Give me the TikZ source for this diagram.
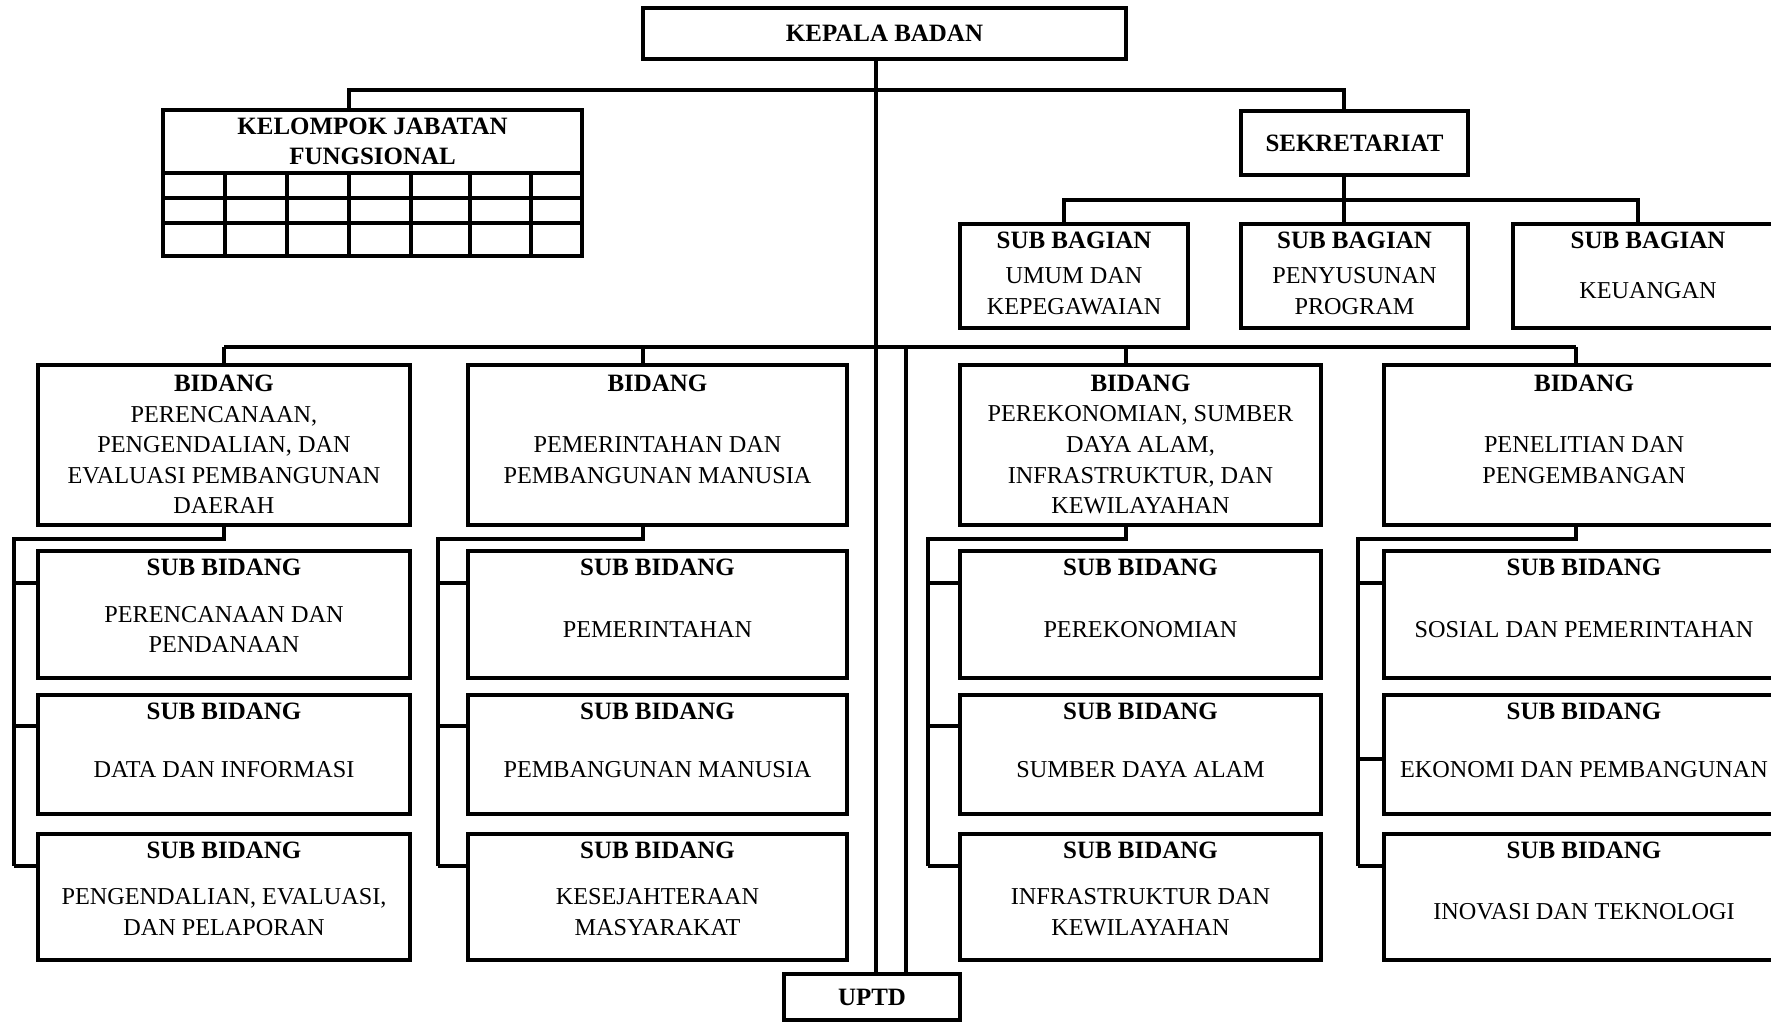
\documentclass[tikz,border=0pt]{standalone}
\usepackage{fontspec}
\setmainfont{Liberation Serif}
\tikzset{
  box/.style={draw, line width=1pt, inner sep=0pt, outer sep=0pt},
  head/.style={box, font=\fontsize{7.1}{8.5}\selectfont\bfseries, align=center},
  ttl/.style={font=\fontsize{7.1}{8.5}\selectfont\bfseries, inner sep=0pt},
  txt/.style={font=\fontsize{6.9}{8.7}\selectfont, align=center, inner sep=0pt},
  conn/.style={line width=1pt}
}
\begin{document}
\begin{tikzpicture}[x=0.1mm,y=-0.1mm]
    \clip (0,0) rectangle (1771,1022);
    % Top level
    \node[head, minimum width=48.3mm, minimum height=5.1mm] (kepala) at (884.5,33.5) {KEPALA BADAN};
    \node[head, minimum width=41.9mm, minimum height=6.3mm] (kjf) at (372.5,141.5) {KELOMPOK JABATAN\\FUNGSIONAL};
    \node[head, minimum width=22.7mm, minimum height=6.4mm] (sek) at (1354.5,143) {SEKRETARIAT};
    \node[head, minimum width=17.6mm, minimum height=4.6mm] (uptd) at (872,997) {UPTD};
    % Grid under the functional group
    \draw[conn] (kjf.south west) rectangle (kjf.east |- 0,256);
    \foreach \gx in {225,287,349,411,470,531}
      \draw[conn] (\gx,173) -- (\gx,256);
    \foreach \gy in {198,223}
      \draw[conn] (163,\gy) -- (582,\gy);
    % Sub bagian
    \foreach \a/\x/\w in {1/1074/22.8, 2/1354.5/22.7, 3/1648/27}{
      \node[box, minimum width=\w mm, minimum height=10.4mm] (sba\a) at (\x,276) {};
      \node[ttl] (sbt\a) at ([yshift=-1.6mm]sba\a.north) {SUB BAGIAN};
    }
    \node[txt] (sbx1) at ([yshift=-1.5mm]sba1.center) {UMUM DAN\\KEPEGAWAIAN};
    \node[txt] (sbx2) at ([yshift=-1.5mm]sba2.center) {PENYUSUNAN\\PROGRAM};
    \node[txt] (sbx3) at ([yshift=-1.5mm]sba3.center) {KEUANGAN};
    % Bidang and sub bidang
    \foreach \c/\x/\w in {1/224/37.2, 2/657.5/37.9, 3/1140.5/36.1, 4/1584/40}{
      \node[box, minimum width=\w mm, minimum height=16mm] (b\c) at (\x,445) {};
      \node[ttl] (bt\c) at ([yshift=-1.8mm]b\c.north) {BIDANG};
      \foreach \r/\y/\h in {1/614.5/12.7, 2/754.5/11.9, 3/897/12.6}{
        \node[box, minimum width=\w mm, minimum height=\h mm] (s\c\r) at (\x,\y) {};
        \node[ttl] (st\c\r) at ([yshift=-1.6mm]s\c\r.north) {SUB BIDANG};
      }
    }
    \node[txt] (bx1) at ([yshift=-1.5mm]b1.center) {PERENCANAAN,\\PENGENDALIAN, DAN\\EVALUASI PEMBANGUNAN\\DAERAH};
    \node[txt] (bx2) at ([yshift=-1.5mm]b2.center) {PEMERINTAHAN DAN\\PEMBANGUNAN MANUSIA};
    \node[txt] (bx3) at ([yshift=-1.5mm]b3.center) {PEREKONOMIAN, SUMBER\\DAYA ALAM,\\INFRASTRUKTUR, DAN\\KEWILAYAHAN};
    \node[txt] (bx4) at ([yshift=-1.5mm]b4.center) {PENELITIAN DAN\\PENGEMBANGAN};
    \node[txt] (sx11) at ([yshift=-1.5mm]s11.center) {PERENCANAAN DAN\\PENDANAAN};
    \node[txt] (sx12) at ([yshift=-1.5mm]s12.center) {DATA DAN INFORMASI};
    \node[txt] (sx13) at ([yshift=-1.5mm]s13.center) {PENGENDALIAN, EVALUASI,\\DAN PELAPORAN};
    \node[txt] (sx21) at ([yshift=-1.5mm]s21.center) {PEMERINTAHAN};
    \node[txt] (sx22) at ([yshift=-1.5mm]s22.center) {PEMBANGUNAN MANUSIA};
    \node[txt] (sx23) at ([yshift=-1.5mm]s23.center) {KESEJAHTERAAN\\MASYARAKAT};
    \node[txt] (sx31) at ([yshift=-1.5mm]s31.center) {PEREKONOMIAN};
    \node[txt] (sx32) at ([yshift=-1.5mm]s32.center) {SUMBER DAYA ALAM};
    \node[txt] (sx33) at ([yshift=-1.5mm]s33.center) {INFRASTRUKTUR DAN\\KEWILAYAHAN};
    \node[txt] (sx41) at ([yshift=-1.5mm]s41.center) {SOSIAL DAN PEMERINTAHAN};
    \node[txt] (sx42) at ([yshift=-1.5mm]s42.center) {EKONOMI DAN PEMBANGUNAN};
    \node[txt] (sx43) at ([yshift=-1.5mm]s43.center) {INOVASI DAN TEKNOLOGI};
    % Connectors, top part
    \coordinate (t1) at (349,90);
    \coordinate (t2) at (1344,90);
    \coordinate (u1) at ([xshift=0.4mm]uptd.north);
    \draw[conn] (kepala.south -| u1) -- (u1);
    \draw[conn] (t1 |- kjf.north) -- (t1) -- (t2) -- (t2 |- sek.north);
    \draw[conn] (t2 |- sek.south) -- (t2 |- sba2.north);
    \coordinate (a1) at (1064,200);
    \coordinate (a3) at (1638,200);
    \draw[conn] (a1 |- sba1.north) -- (a1) -- (a3) -- (a3 |- sba3.north);
    % Connectors, bidang bar
    \coordinate (k1) at (224,347);
    \coordinate (k2) at (643,347);
    \coordinate (k3) at (1126,347);
    \coordinate (k4) at (1576,347);
    \draw[conn] (k1) -- (k4);
    \foreach \c in {1,...,4}
      \draw[conn] (k\c) -- (k\c |- b\c.north);
    \coordinate (u2) at ([xshift=3.4mm]uptd.north);
    \draw[conn] (u2 |- k1) -- (u2);
    % Connectors, sub bidang
    \coordinate (v1) at (14,539);
    \coordinate (v2) at (438,539);
    \coordinate (v3) at (928,539);
    \coordinate (v4) at (1358,539);
    \foreach \c in {1,...,4}
      \draw[conn] (k\c |- b\c.south) |- (v\c) -- (v\c |- 0,866);
    \foreach \c in {1,...,4}
      \foreach \r/\ty in {1/583,3/866}
        \draw[conn] (v\c |- 0,\ty) -- (s\c\r.west |- 0,\ty);
    \foreach \c/\ty in {1/726,2/726,3/726,4/759}
      \draw[conn] (v\c |- 0,\ty) -- (s\c2.west |- 0,\ty);
\end{tikzpicture}
\end{document}
